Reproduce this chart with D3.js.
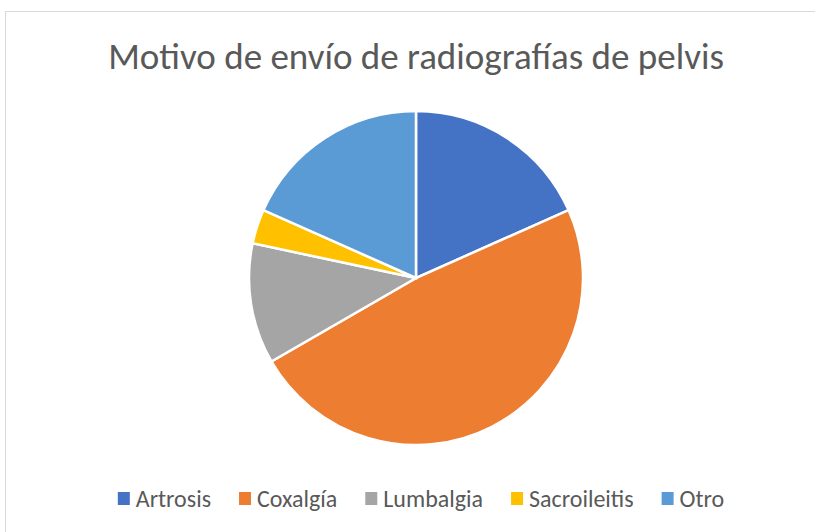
<!DOCTYPE html>
<html>
<head>
<meta charset="utf-8">
<script src="https://cdn.jsdelivr.net/npm/d3@7"></script>
<style>
  body { margin: 0; background: #fff; }
  svg { font-family: Carlito, Calibri, "Open Sans", sans-serif; }
</style>
</head>
<body>
<svg width="815" height="532"></svg>
<script>
var categories = ['Artrosis', 'Coxalgía', 'Lumbalgia', 'Sacroileitis', 'Otro'];
var values = [11, 29, 7, 2, 11];
var colors = ['#4472c4', '#ed7d31', '#a5a5a5', '#ffc000', '#5b9bd5'];
var title = 'Motivo de envío de radiografías de pelvis';

var svg = d3.select('svg');

// chart frame
svg.append('rect')
    .attr('x', 5.5).attr('y', 11.5)
    .attr('width', 830).attr('height', 540)
    .attr('fill', '#fff')
    .attr('stroke', '#d9d9d9');

var titleText = svg.append('text')
    .attr('x', 416).attr('y', 69)
    .attr('text-anchor', 'middle')
    .style('font-size', '34px')
    .style('fill', '#595959')
    .text(title);

// fit title to the width it has in the original
var tw = titleText.node().getComputedTextLength();
titleText.style('font-size', (34 * 616 / tw) + 'px');

var data = categories.map((c, i) => ({name: c, value: values[i], color: colors[i]}));

var pie = d3.pie().sort(null).value(d => d.value);
var arc = d3.arc().innerRadius(0).outerRadius(167);

svg.append('g')
    .attr('transform', 'translate(416,278)')
    .selectAll('path')
    .data(pie(data))
    .enter()
    .append('path')
        .attr('d', arc)
        .attr('fill', d => d.data.color)
        .attr('stroke', '#fff')
        .attr('stroke-width', 2.5);

// legend
var legend = svg.append('g');
var items = legend.selectAll('g')
    .data(data)
    .enter()
    .append('g');

items.append('rect')
    .attr('y', -7).attr('width', 12).attr('height', 13)
    .attr('fill', d => d.color);

items.append('text')
    .attr('x', 18).attr('y', 8)
    .style('font-size', '24px')
    .style('fill', '#595959')
    .text(d => d.name);

// lay items out left to right, then centre the row
var x = 0, gap = 28;
items.each(function() {
    var w = 18 + this.querySelector('text').getComputedTextLength();
    d3.select(this).attr('transform', 'translate(' + x + ',0)');
    x += w + gap;
});
var total = x - gap;
legend.attr('transform', 'translate(' + (421 - total / 2) + ',499)');
</script>
</body>
</html>
